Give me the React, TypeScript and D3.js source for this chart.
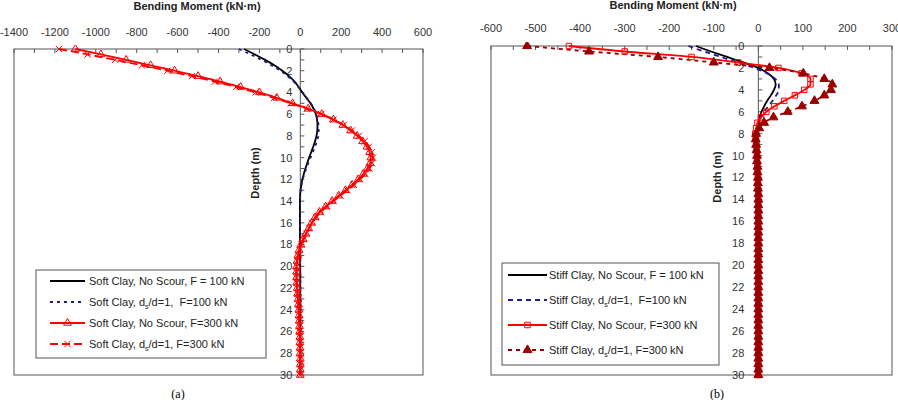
import * as React from "react"
import * as d3 from "d3"

// depth (m) at which every profile is sampled
const depths = [0, 0.5, 1, 1.5, 2, 2.5, 3, 3.5, 4, 4.5, 5, 5.5, 6, 6.5, 7, 7.5, 8, 8.5, 9, 9.5,
    10, 10.5, 11, 11.5, 12, 12.5, 13, 13.5, 14, 14.5, 15, 15.5, 16, 16.5, 17, 17.5, 18, 18.5, 19, 19.5,
    20, 20.5, 21, 21.5, 22, 22.5, 23, 23.5, 24, 24.5, 25, 25.5, 26, 26.5, 27, 27.5, 28, 28.5, 29, 29.5, 30]

// (a) soft clay, bending moment kN-m
const softNoScour100 = [-275, -222, -172, -127, -88, -55, -28, -8, 10, 30,
    50, 65, 76, 82, 84, 83, 79, 72, 63, 53,
    43, 34, 25, 17, 10, 5, 1, -1, -2, -2,
    -2, -2, -2, -2, -2, -2, -2, -1, -1, -1,
    -1, 0, 0, 0, 0, 0, 0, 0, 0, 0,
    0, 0, 0, 0, 0, 0, 0, 0, 0, 0, 0]
const softScour100 = [-300, -243, -190, -141, -98, -62, -32, -10, 10, 31,
    51, 67, 78, 85, 89, 90, 88, 81, 72, 61,
    50, 39, 29, 20, 12, 6, 2, 0, -1, -1,
    -1, -1, -1, -1, -1, -1, -1, -1, 0, 0,
    0, 0, 0, 0, 0, 0, 0, 0, 0, 0,
    0, 0, 0, 0, 0, 0, 0, 0, 0, 0, 0]
const softNoScour300 = [-1100, -975, -852, -732, -615, -500, -392, -292, -200, -115,
    -38, 38, 105, 162, 208, 246, 278, 305, 326, 339,
    345, 341, 328, 308, 283, 253, 221, 188, 156, 124,
    94, 72, 55, 41, 27, 14, 3, -6, -12, -16,
    -18, -18, -18, -17, -15, -13, -11, -9, -7, -6,
    -5, -4, -3, -2, -2, -1, -1, 0, 0, 0, 0]
const softScour300 = [-1180, -1040, -905, -775, -650, -530, -418, -314, -218, -128,
    -46, 32, 102, 162, 212, 252, 286, 314, 335, 349,
    355, 351, 338, 318, 292, 262, 230, 196, 163, 130,
    100, 77, 58, 43, 29, 16, 5, -4, -11, -15,
    -18, -19, -19, -18, -16, -14, -12, -10, -8, -7,
    -6, -5, -4, -3, -2, -2, -1, -1, 0, 0, 0]

// (b) stiff clay
const stiffNoScour100 = [-140, -106, -70, -34, 0, 22, 35, 39, 35, 28,
    20, 13, 7, 3, 1, 0, 0, 0, 0, 0,
    0, 0, 0, 0, 0, 0, 0, 0, 0, 0,
    0, 0, 0, 0, 0, 0, 0, 0, 0, 0,
    0, 0, 0, 0, 0, 0, 0, 0, 0, 0,
    0, 0, 0, 0, 0, 0, 0, 0, 0, 0, 0]
const stiffScour100 = [-157, -122, -84, -46, -9, 20, 38, 46, 46, 40,
    32, 22, 13, 6, 2, 0, 0, 0, 0, 0,
    0, 0, 0, 0, 0, 0, 0, 0, 0, 0,
    0, 0, 0, 0, 0, 0, 0, 0, 0, 0,
    0, 0, 0, 0, 0, 0, 0, 0, 0, 0,
    0, 0, 0, 0, 0, 0, 0, 0, 0, 0, 0]
const stiffNoScour300 = [-425, -300, -150, -45, 45, 97, 117, 117, 103, 82,
    58, 36, 18, 6, -2, -5, -7, -6, -5, -4,
    -3, -3, -2, -2, -1, -1, -1, 0, 0, 0,
    0, 0, 0, 0, 0, 0, 0, 0, 0, 0,
    0, 0, 0, 0, 0, 0, 0, 0, 0, 0,
    0, 0, 0, 0, 0, 0, 0, 0, 0, 0, 0]
const stiffScour300 = [-519, -380, -225, -100, 25, 101, 148, 166, 163, 148,
    126, 98, 66, 34, 13, 2, -5, -6, -5, -4,
    -3, -3, -2, -2, -1, -1, -1, 0, 0, 0,
    0, 0, 0, 0, 0, 0, 0, 0, 0, 0,
    0, 0, 0, 0, 0, 0, 0, 0, 0, 0,
    0, 0, 0, 0, 0, 0, 0, 0, 0, 0, 0]

const softTicks = [-1400, -1200, -1000, -800, -600, -400, -200, 0, 200, 400, 600]
const stiffTicks = [-600, -500, -400, -300, -200, -100, 0, 100, 200, 300]
const depthTicks = [0, 2, 4, 6, 8, 10, 12, 14, 16, 18, 20, 22, 24, 26, 28, 30]

const FONT = "Arial, 'Liberation Sans', sans-serif"

const softSeries = [
    { label: ["Soft Clay, No Scour, F = 100 kN"], values: softNoScour100, color: "#000", dash: null, marker: null },
    { label: ["Soft Clay, d", "s", "/d=1,  F=100 kN"], values: softScour100, color: "#1c1c80", dash: "3,4", marker: null },
    { label: ["Soft Clay, No Scour, F=300 kN"], values: softNoScour300, color: "#ff0000", dash: null, marker: "triangleOpen" },
    { label: ["Soft Clay, d", "s", "/d=1, F=300 kN"], values: softScour300, color: "#ff0000", dash: "8,4", marker: "x" },
]
const stiffSeries = [
    { label: ["Stiff Clay, No Scour, F = 100 kN"], values: stiffNoScour100, color: "#000", dash: null, marker: null },
    { label: ["Stiff Clay, d", "s", "/d=1,  F=100 kN"], values: stiffScour100, color: "#1c1c9a", dash: "5,4", marker: null },
    { label: ["Stiff Clay, No Scour, F=300 kN"], values: stiffNoScour300, color: "#ff0000", dash: null, marker: "square" },
    { label: ["Stiff Clay, d", "s", "/d=1, F=300 kN"], values: stiffScour300, color: "#990000", dash: "4,4", marker: "triangleFilled" },
]

function markerPath(kind) {
    if (kind === "triangleOpen") return d3.symbol(d3.symbolTriangle, 26)()
    if (kind === "triangleFilled") return d3.symbol(d3.symbolTriangle, 34)()
    if (kind === "square") return d3.symbol(d3.symbolSquare, 30)()
    return d3.symbol(d3.symbolX, 28)()
}

function Marker({ kind, color, x, y }) {
    const filled = kind === "triangleFilled"
    return <path d={markerPath(kind)} transform={`translate(${x},${y})`}
        fill={filled ? color : "none"} stroke={color} strokeWidth={1} />
}

function Panel(props) {
    const { id, xDomain, xRange, yRange, ticks, minorStep, series, legend, titleX, titleY, tickY, depthLabel, labelGap } = props
    const x = d3.scaleLinear().domain(xDomain).range(xRange)
    const y = d3.scaleLinear().domain([0, 30]).range(yRange)
    const line = d3.line<number>()
        .x((v) => x(v))
        .y((v, i) => y(depths[i]))
        .curve(d3.curveMonotoneY)
    const minor = d3.range(xDomain[0], xDomain[1] + 1, minorStep)
    const depthMinor = d3.range(0, 31, 1)

    return (
        <g>
            <defs>
                <clipPath id={id}>
                    <rect x={xRange[0]} y={yRange[0] - 4} width={xRange[1] - xRange[0]} height={yRange[1] - yRange[0] + 8} />
                </clipPath>
            </defs>
            <text x={titleX} y={titleY} textAnchor="middle" fontFamily={FONT} fontSize={11} fontWeight="bold" fill="#222">
                Bending Moment (kN·m)
            </text>
            {ticks.map((t) => (
                <text key={t} x={x(t)} y={tickY} textAnchor="middle" fontFamily={FONT} fontSize={11} fill="#333">{t}</text>
            ))}
            <rect x={xRange[0]} y={yRange[0]} width={xRange[1] - xRange[0]} height={yRange[1] - yRange[0]}
                fill="white" stroke="#555" strokeWidth={1} />
            {minor.map((t) => (
                <line key={t} x1={x(t)} x2={x(t)} y1={yRange[0]} y2={yRange[0] + 4} stroke="#555" />
            ))}
            <line x1={x(0)} x2={x(0)} y1={yRange[0]} y2={yRange[1]} stroke="#555" />
            {depthMinor.map((d) => (
                <line key={d} x1={x(0)} x2={x(0) + 4} y1={y(d)} y2={y(d)} stroke="#555" />
            ))}
            {depthTicks.map((d) => (
                <text key={d} x={x(0) - labelGap} y={y(d)} dy="0.35em" textAnchor="end" fontFamily={FONT} fontSize={11} fill="#333">{d}</text>
            ))}
            <text transform={`translate(${depthLabel[0]},${depthLabel[1]}) rotate(-90)`} textAnchor="middle"
                fontFamily={FONT} fontSize={11} fontWeight="bold" fill="#222">Depth (m)</text>
            <g clipPath={`url(#${id})`}>
                {series.map((s, i) => (
                    <path key={i} d={line(s.values)} fill="none" stroke={s.color} strokeWidth={1.8}
                        strokeDasharray={s.dash || undefined} />
                ))}
                {series.filter((s) => s.marker).map((s, i) => (
                    <g key={i}>
                        {s.values.map((v, j) => (
                            <Marker key={j} kind={s.marker} color={s.color} x={x(v)} y={y(depths[j])} />
                        ))}
                    </g>
                ))}
            </g>
            <rect x={legend.x} y={legend.y} width={legend.w} height={legend.h} fill="white" stroke="#555" />
            {series.map((s, i) => {
                const ly = legend.rows[i]
                const cx = (legend.lineX[0] + legend.lineX[1]) / 2
                return (
                    <g key={i}>
                        <line x1={legend.lineX[0]} x2={legend.lineX[1]} y1={ly} y2={ly} stroke={s.color}
                            strokeWidth={1.8} strokeDasharray={s.dash || undefined} />
                        {s.marker && <Marker kind={s.marker} color={s.color} x={cx} y={ly} />}
                        <text x={legend.textX} y={ly} dy="0.35em" fontFamily={FONT} fontSize={11} fill="#222"
                            style={{ whiteSpace: "pre" }}>
                            {s.label[0]}
                            {s.label.length > 1 && <tspan fontSize={7} dy="3">{s.label[1]}</tspan>}
                            {s.label.length > 1 && <tspan dy="-3">{s.label[2]}</tspan>}
                        </text>
                    </g>
                )
            })}
        </g>
    )
}

export default function App() {
    return (
        <svg width={898} height={400} style={{ position: "absolute", left: 0, top: 0, background: "white" }}>
            <rect width={898} height={400} fill="white" />
            <Panel id="clipA" xDomain={[-1400, 600]} xRange={[14, 423]} yRange={[49, 375]}
                ticks={softTicks} minorStep={100} series={softSeries}
                titleX={197} titleY={10} tickY={36} depthLabel={[259, 173]} labelGap={8}
                legend={{ x: 36, y: 270, w: 230, h: 88, rows: [281, 302, 323, 344], lineX: [50, 85], textX: 89 }} />
            <Panel id="clipB" xDomain={[-600, 300]} xRange={[491, 892]} yRange={[46, 375]}
                ticks={stiffTicks} minorStep={50} series={stiffSeries}
                titleX={673} titleY={9} tickY={32} depthLabel={[721, 177]} labelGap={14}
                legend={{ x: 502, y: 263, w: 217, h: 102, rows: [275, 300, 325, 350], lineX: [508, 547], textX: 549 }} />
            <text x={178} y={398} textAnchor="middle" fontFamily="'Liberation Serif', serif" fontSize={12}>(a)</text>
            <text x={717} y={398} textAnchor="middle" fontFamily="'Liberation Serif', serif" fontSize={12}>(b)</text>
        </svg>
    )
}
